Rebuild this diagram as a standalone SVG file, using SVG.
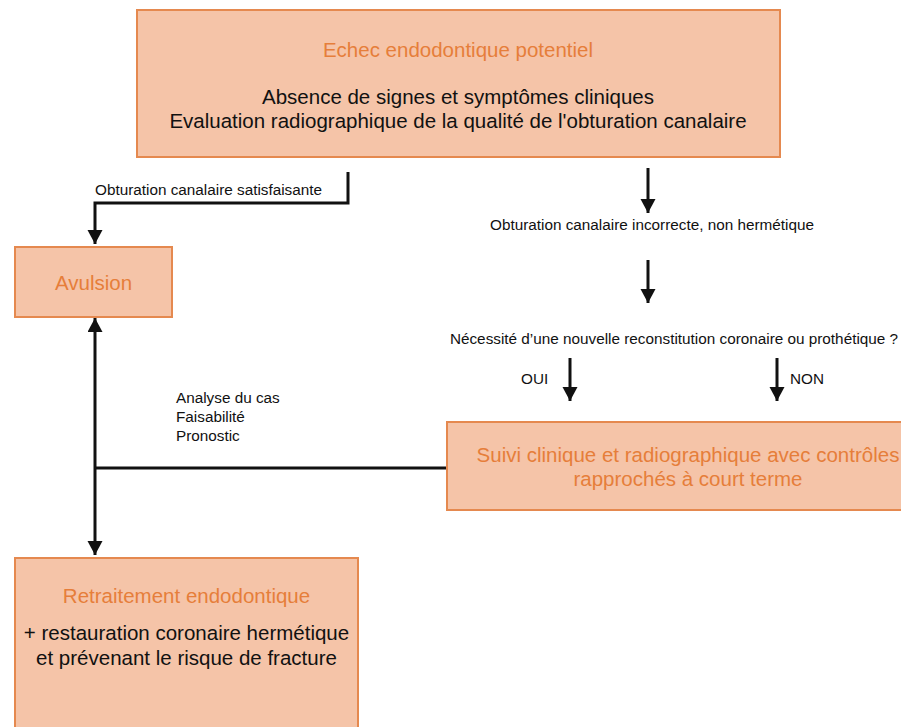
<svg xmlns="http://www.w3.org/2000/svg" width="901" height="727" viewBox="0 0 901 727">
<style>
.box{fill:#F5C4A8;stroke:#E5894F;stroke-width:2}
.t{font-family:"Liberation Sans",Arial,Helvetica,sans-serif}
.big{font-size:20.5px}
.sm{font-size:15.3px;fill:#111}
.or{fill:#E67E3A}
.bk{fill:#111}
.c{stroke:#111;stroke-width:3;fill:none}
.m{text-anchor:middle}
</style>
<defs>
<marker id="ah" markerUnits="userSpaceOnUse" markerWidth="16" markerHeight="16" refX="14" refY="7.5" orient="auto" viewBox="0 0 16 16">
<path d="M0,0 L14,7.5 L0,15 Z" fill="#111"/>
</marker>
</defs>
<rect width="901" height="727" fill="#fff"/>
<g id="connectors">
<path class="c" d="M348,172 V203 H95 V244" marker-end="url(#ah)"/>
<path class="c" d="M648,168 V213" marker-end="url(#ah)"/>
<path class="c" d="M648,260 V303" marker-end="url(#ah)"/>
<path class="c" d="M570,358 V401" marker-end="url(#ah)"/>
<path class="c" d="M777,358 V401" marker-end="url(#ah)"/>
<path class="c" d="M95,468 V318" marker-end="url(#ah)"/>
<path class="c" d="M95,468 V555" marker-end="url(#ah)"/>
<path class="c" d="M447,468 H95"/>
</g>
<g id="labels" class="t sm">
<text x="95" y="195">Obturation canalaire satisfaisante</text>
<text x="652" y="230" class="m">Obturation canalaire incorrecte, non hermétique</text>
<text x="674" y="344" class="m">Nécessité d’une nouvelle reconstitution coronaire ou prothétique ?</text>
<text x="521" y="384">OUI</text>
<text x="790" y="384">NON</text>
<text x="176" y="403">Analyse du cas</text>
<text x="176" y="422">Faisabilité</text>
<text x="176" y="441">Pronostic</text>
</g>
<g id="echec">
<rect class="box" x="137" y="10" width="643" height="147"/>
<text class="t big or m" x="458" y="57">Echec endodontique potentiel</text>
<text class="t big bk m" x="458" y="104">Absence de signes et symptômes cliniques</text>
<text class="t big bk m" x="458" y="128">Evaluation radiographique de la qualité de l'obturation canalaire</text>
</g>
<g id="avulsion">
<rect class="box" x="15" y="247" width="157" height="70"/>
<text class="t big or m" x="93.5" y="290">Avulsion</text>
</g>
<g id="suivi">
<rect class="box" x="447" y="422" width="485" height="88"/>
<text class="t big or m" x="688" y="462">Suivi clinique et radiographique avec contrôles</text>
<text class="t big or m" x="688" y="486">rapprochés à court terme</text>
</g>
<g id="retraitement">
<rect class="box" x="15" y="558" width="343" height="180"/>
<text class="t big or m" x="186.5" y="603">Retraitement endodontique</text>
<text class="t big bk m" x="186.5" y="640">+ restauration coronaire hermétique</text>
<text class="t big bk m" x="186.5" y="665">et prévenant le risque de fracture</text>
</g>
</svg>
